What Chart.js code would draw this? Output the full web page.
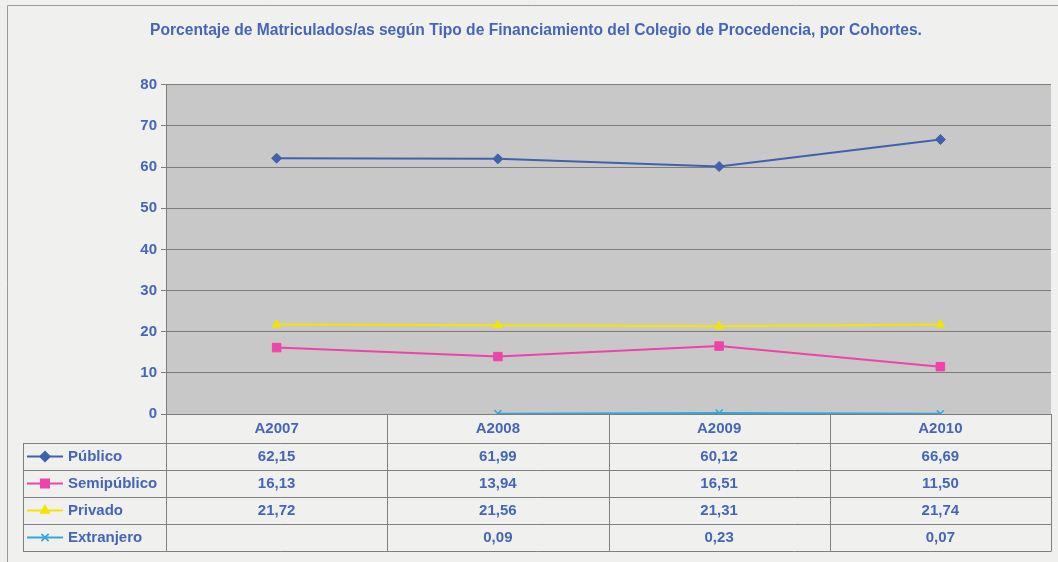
<!DOCTYPE html>
<html>
<head>
<meta charset="utf-8">
<script src="https://cdn.jsdelivr.net/npm/chart.js@4/dist/chart.umd.min.js"></script>
<style>
  html, body { margin: 0; padding: 0; background: #f0f0ef; }
  #wrap { width: 1058px; height: 562px; }
</style>
</head>
<body>
<div id="wrap"><canvas id="c" width="1058" height="562"></canvas></div>
<script>
const cohorts = ['A2007', 'A2008', 'A2009', 'A2010'];
const publico = [62.15, 61.99, 60.12, 66.69];
const semipublico = [16.13, 13.94, 16.51, 11.50];
const privado = [21.72, 21.56, 21.31, 21.74];
const extranjero = [null, 0.09, 0.23, 0.07];
const yTicks = [0, 10, 20, 30, 40, 50, 60, 70, 80];

const blueText = '#4466b8';
const font = "'Liberation Sans', Arial, sans-serif";

const series = [
  { label: 'Público', data: publico, color: '#3f62ad', style: 'rectRot', r: 5 },
  { label: 'Semipúblico', data: semipublico, color: '#ee44aa', style: 'rect', r: 6 },
  { label: 'Privado', data: privado, color: '#f5e400', style: 'triangle', r: 5 },
  { label: 'Extranjero', data: extranjero, color: '#33a6dd', style: 'crossRot', r: 5 }
];

// background, plot area and the data table under the axis
const tablePlugin = {
  id: 'table',
  beforeDraw(chart) {
    const { ctx, chartArea: a } = chart;
    ctx.save();
    ctx.fillStyle = '#f0f0ef';
    ctx.fillRect(0, 0, chart.width, chart.height);
    ctx.strokeStyle = '#9a9a9a';
    ctx.lineWidth = 1;
    ctx.beginPath();
    ctx.moveTo(7.5, 562); ctx.lineTo(7.5, 5.5); ctx.lineTo(1058, 5.5);
    ctx.stroke();
    ctx.fillStyle = '#c8c8c8';
    ctx.fillRect(a.left, a.top, a.right - a.left, a.bottom - a.top);
    ctx.restore();
  },
  afterDraw(chart) {
    const { ctx, chartArea: a } = chart;
    const x = chart.scales.x;
    const half = (x.getPixelForValue(1) - x.getPixelForValue(0)) / 2;
    const headTop = a.bottom, headBot = a.bottom + 29, rowH = 27;
    const bottom = headBot + rowH * series.length;
    const boxLeft = 23;
    ctx.save();
    ctx.strokeStyle = '#808080';
    ctx.lineWidth = 1;
    ctx.beginPath();
    // vertical lines
    ctx.moveTo(a.left + 0.5, headTop); ctx.lineTo(a.left + 0.5, bottom);
    cohorts.forEach((c, i) => {
      const bx = Math.round(x.getPixelForValue(i) + half) + 0.5;
      ctx.moveTo(bx, headTop); ctx.lineTo(bx, bottom);
    });
    ctx.moveTo(boxLeft + 0.5, headBot); ctx.lineTo(boxLeft + 0.5, bottom);
    // horizontal lines
    for (let r = 0; r <= series.length; r++) {
      const y = Math.round(headBot + r * rowH) + 0.5;
      ctx.moveTo(boxLeft, y); ctx.lineTo(a.right + 0.5, y);
    }
    ctx.stroke();

    ctx.fillStyle = blueText;
    ctx.font = 'bold 15px ' + font;
    ctx.textAlign = 'center';
    ctx.textBaseline = 'middle';
    cohorts.forEach((c, i) => {
      ctx.fillText(c, x.getPixelForValue(i), headTop + 14.5);
    });
    series.forEach((s, r) => {
      const cy = headBot + r * rowH + rowH / 2;
      ctx.textAlign = 'center';
      ctx.fillStyle = blueText;
      s.data.forEach((v, i) => {
        if (v === null) return;
        ctx.fillText(v.toFixed(2).replace('.', ','), x.getPixelForValue(i), cy);
      });
      // legend key
      ctx.strokeStyle = s.color;
      ctx.lineWidth = 2;
      ctx.beginPath();
      ctx.moveTo(27, cy); ctx.lineTo(63, cy);
      ctx.stroke();
      ctx.fillStyle = s.color;
      ctx.lineWidth = 1.5;
      Chart.helpers.drawPoint(ctx, { pointStyle: s.style, radius: s.r, borderWidth: 1.5 }, 45, cy);
      if (s.style === 'crossRot') ctx.stroke();
      ctx.fillStyle = blueText;
      ctx.textAlign = 'left';
      ctx.fillText(s.label, 68, cy);
    });
    ctx.restore();
  }
};

new Chart(document.getElementById('c'), {
  type: 'line',
  data: {
    labels: cohorts,
    datasets: series.map(s => ({
      label: s.label,
      data: s.data,
      borderColor: s.color,
      backgroundColor: s.color,
      borderWidth: 2,
      pointStyle: s.style,
      pointRadius: s.r,
      pointBorderWidth: s.style === 'crossRot' ? 1.5 : 1,
      tension: 0,
      spanGaps: false
    }))
  },
  options: {
    responsive: false,
    animation: false,
    layout: { padding: { left: 18, right: 4, top: 0, bottom: 148 } },
    plugins: {
      legend: { display: false },
      tooltip: { enabled: false },
      title: {
        display: true,
        text: 'Porcentaje de Matriculados/as según Tipo de Financiamiento del Colegio de Procedencia, por Cohortes.',
        color: blueText,
        font: { family: font, size: 15.6, weight: 'bold' },
        padding: { top: 21, bottom: 45 }
      }
    },
    scales: {
      x: {
        display: false,
        offset: true,
        afterFit: s => { s.paddingLeft = 0; s.paddingRight = 0; }
      },
      y: {
        min: 0,
        max: 80,
        afterFit: s => { s.width = 148; },
        afterBuildTicks: s => { s.ticks = yTicks.map(v => ({ value: v })); },
        ticks: {
          color: blueText,
          font: { family: font, size: 15, weight: 'bold' },
          padding: 4
        },
        grid: { color: '#7d7d7d', lineWidth: 1, tickLength: 5 },
        border: { color: '#7d7d7d' }
      }
    }
  },
  plugins: [tablePlugin]
});
</script>
</body>
</html>
